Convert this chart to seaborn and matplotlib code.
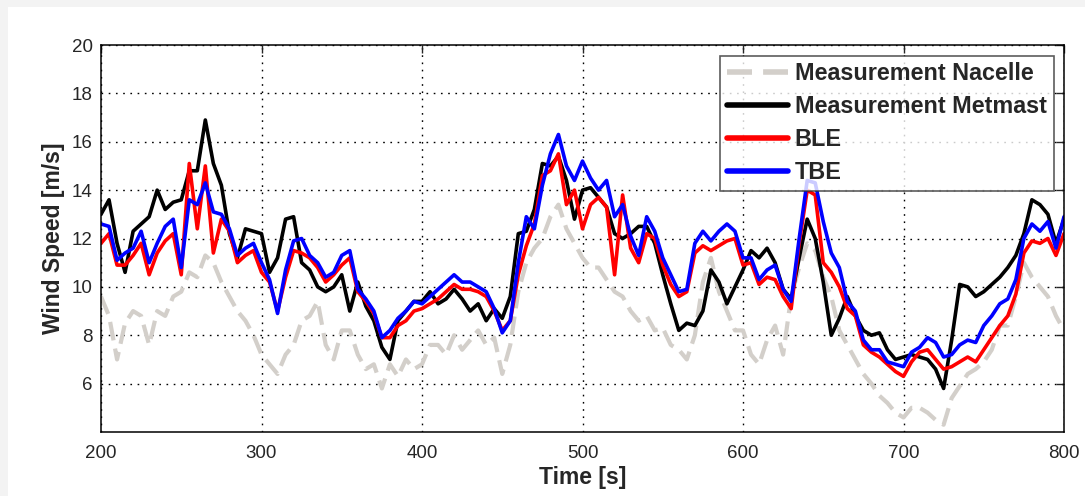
import numpy as np
import pandas as pd
import matplotlib
matplotlib.use("Agg")
import matplotlib.pyplot as plt
import seaborn as sns
from matplotlib.patches import Rectangle

time_s = list(range(200, 801, 5))

nacelle = [9.6, 8.8, 7.0, 8.5, 9.0, 8.8, 7.6, 9.0, 8.8, 9.6,
           9.8, 10.6, 10.4, 11.3, 11.0, 10.2, 9.6, 9.0, 8.6, 8.0,
           7.2, 6.8, 6.4, 7.2, 7.6, 8.6, 8.8, 9.4, 7.6, 7.0,
           8.2, 8.2, 7.2, 6.6, 6.8, 5.8, 6.8, 6.3, 7.0, 6.6,
           6.8, 7.6, 7.6, 7.2, 8.0, 7.4, 7.8, 8.2, 7.6, 7.9,
           6.4, 7.6, 9.8, 11.0, 11.6, 12.0, 12.9, 13.4, 12.4, 11.8,
           11.2, 10.8, 10.8, 10.3, 9.8, 9.6, 9.0, 8.6, 8.8, 8.2,
           8.3, 7.6, 7.4, 7.0, 8.0, 10.2, 11.2, 9.8, 9.0, 8.2,
           8.2, 7.2, 6.8, 7.8, 8.4, 7.2, 9.6, 10.8, 11.8, 11.5,
           10.4, 9.6, 8.2, 7.6, 7.0, 6.4, 6.0, 5.5, 5.2, 4.8,
           4.6, 5.0, 5.0, 4.8, 4.5, 4.3, 5.4, 5.9, 6.4, 6.6,
           6.9, 7.4, 8.4, 8.4, 9.6, 11.0, 10.4, 10.0, 9.6, 8.8,
           8.2]

metmast = [13.0, 13.6, 11.8, 10.6, 12.3, 12.6, 12.9, 14.0, 13.2, 13.5,
           13.6, 14.8, 14.8, 16.9, 15.1, 14.2, 12.2, 11.2, 12.4, 12.3,
           12.2, 10.6, 11.2, 12.8, 12.9, 11.0, 10.7, 10.0, 9.8, 10.0,
           10.5, 9.0, 10.2, 9.2, 8.6, 7.5, 7.0, 8.6, 9.0, 9.4,
           9.4, 9.8, 9.3, 9.5, 9.9, 9.5, 9.0, 9.3, 8.6, 9.1,
           8.7, 9.6, 12.2, 12.3, 13.2, 15.1, 15.0, 15.4, 14.4, 12.8,
           14.0, 14.1, 13.7, 13.3, 12.2, 12.0, 12.2, 12.5, 12.5, 11.8,
           10.5, 9.3, 8.2, 8.5, 8.4, 9.0, 10.7, 10.2, 9.3, 10.0,
           10.7, 11.5, 11.2, 11.6, 11.0, 9.9, 9.5, 11.2, 12.8, 12.0,
           10.2, 8.0, 8.7, 9.6, 8.8, 8.2, 8.0, 8.1, 7.4, 7.0,
           7.1, 7.2, 7.1, 7.0, 6.6, 5.8, 7.8, 10.1, 10.0, 9.6,
           9.8, 10.1, 10.4, 10.8, 11.3, 12.2, 13.6, 13.4, 13.0, 11.8,
           12.8]

ble = [11.8, 12.2, 10.9, 10.9, 11.3, 11.8, 10.5, 11.4, 11.9, 12.2,
       10.5, 15.1, 12.4, 15.0, 11.4, 12.8, 12.3, 11.0, 11.3, 11.5,
       10.6, 10.2, 9.0, 10.4, 11.5, 11.4, 11.2, 10.8, 10.2, 10.5,
       10.9, 11.2, 9.8, 9.4, 8.9, 7.9, 7.9, 8.4, 8.6, 9.0,
       9.1, 9.3, 9.5, 9.8, 10.1, 9.9, 9.9, 9.8, 9.6, 9.0,
       8.2, 8.6, 10.5, 11.7, 12.6, 14.6, 14.8, 15.5, 13.4, 14.0,
       12.4, 13.4, 13.7, 13.3, 10.5, 13.8, 11.6, 11.0, 12.2, 12.0,
       10.9, 10.1, 9.6, 9.8, 11.4, 11.7, 11.5, 11.7, 11.9, 12.0,
       10.9, 11.0, 10.1, 10.4, 10.3, 9.6, 9.1, 11.8, 14.0, 13.8,
       11.0, 10.6, 10.0, 9.1, 8.8, 7.6, 7.3, 7.1, 6.8, 6.5,
       6.3, 6.9, 7.3, 7.4, 7.0, 6.6, 6.7, 6.9, 7.1, 6.9,
       7.4, 7.9, 8.4, 8.8, 9.7, 11.4, 11.9, 11.8, 12.0, 11.3,
       12.2]

tbe = [12.6, 12.5, 11.1, 11.4, 11.6, 12.3, 11.0, 11.8, 12.5, 12.8,
       10.8, 13.6, 13.4, 14.3, 13.1, 13.0, 12.4, 11.3, 11.6, 11.8,
       11.0, 10.3, 8.9, 10.7, 11.9, 12.0, 11.3, 11.0, 10.4, 10.6,
       11.3, 11.5, 9.9, 9.5, 9.0, 7.9, 8.2, 8.7, 9.0, 9.4,
       9.3, 9.6, 9.9, 10.2, 10.5, 10.2, 10.2, 10.0, 9.8, 9.1,
       8.1, 8.6, 11.0, 12.9, 12.4, 14.2, 15.5, 16.3, 15.0, 14.4,
       15.2, 14.5, 14.0, 14.4, 12.9, 13.4, 12.1, 11.3, 12.9, 12.3,
       11.2, 10.5, 9.8, 9.9, 11.8, 12.3, 11.9, 12.3, 12.6, 12.3,
       11.2, 11.2, 10.3, 10.7, 10.9, 9.9, 9.4, 12.0, 14.4, 14.3,
       12.7, 11.4, 10.8, 9.4, 9.0, 7.8, 7.4, 7.4, 6.9, 6.8,
       6.7, 7.3, 7.5, 7.9, 7.7, 7.1, 7.2, 7.6, 7.8, 7.7,
       8.4, 8.8, 9.3, 9.5, 10.3, 12.0, 12.6, 12.3, 12.7, 11.6,
       12.9]

series_names = ["Measurement Nacelle", "Measurement Metmast", "BLE", "TBE"]
series_values = [nacelle, metmast, ble, tbe]
series_colors = ["#d3cfca", "#000000", "#ff0000", "#0000ff"]

sns.set_style("white")
plt.rcParams["font.family"] = ["Liberation Sans", "DejaVu Sans"]

fig = plt.figure(figsize=(10.85, 4.96), dpi=100)
fig.patch.set_facecolor("#f3f3f3")
fig.patches.append(Rectangle((8 / 1085, 0), 1, 1 - 7 / 496, transform=fig.transFigure,
                             facecolor="white", edgecolor="none", zorder=-10))
ax = fig.add_axes([101 / 1085, 1 - 432 / 496, (1064 - 101) / 1085, (432 - 45) / 496])
ax.set_zorder(5)

for name, vals, col in zip(series_names, series_values, series_colors):
    df = pd.DataFrame({"Time": time_s, "Speed": vals})
    if name == "Measurement Nacelle":
        sns.lineplot(data=df, x="Time", y="Speed", ax=ax, color=col, lw=3.0,
                     linestyle=(0, (4.5, 2)), label=name)
    else:
        sns.lineplot(data=df, x="Time", y="Speed", ax=ax, color=col, lw=2.6, label=name)

ax.set_xlim(200, 800)
ax.set_ylim(4, 20)
ax.set_xticks([200, 300, 400, 500, 600, 700, 800])
ax.set_yticks([6, 8, 10, 12, 14, 16, 18, 20])
ax.grid(True, color="black", linestyle=(0, (1.2, 4)), linewidth=1.0)
ax.tick_params(direction="in", length=6, top=True, right=True, labelsize=13.5,
               width=1.0)
ax.tick_params(axis="x", pad=9)
ax.tick_params(axis="y", pad=6)
for sp in ax.spines.values():
    sp.set_color("black")
    sp.set_linewidth(1.1)
ax.set_xlabel("Time [s]", fontsize=16.5, fontweight="bold", labelpad=3)
ax.set_ylabel("Wind Speed [m/s]", fontsize=16.5, fontweight="bold", labelpad=5)

leg = ax.legend(loc="upper right", fontsize=16.8, frameon=True, fancybox=False,
                handlelength=2.6, labelspacing=0.42, borderpad=0.3,
                handletextpad=0.3, borderaxespad=0.45)
leg.get_frame().set_edgecolor("#333333")
leg.get_frame().set_linewidth(1.2)
for t in leg.get_texts():
    t.set_fontweight("bold")
for h in leg.get_lines():
    h.set_linewidth(4)

fig.savefig("out.png", dpi=100, facecolor=fig.get_facecolor())
